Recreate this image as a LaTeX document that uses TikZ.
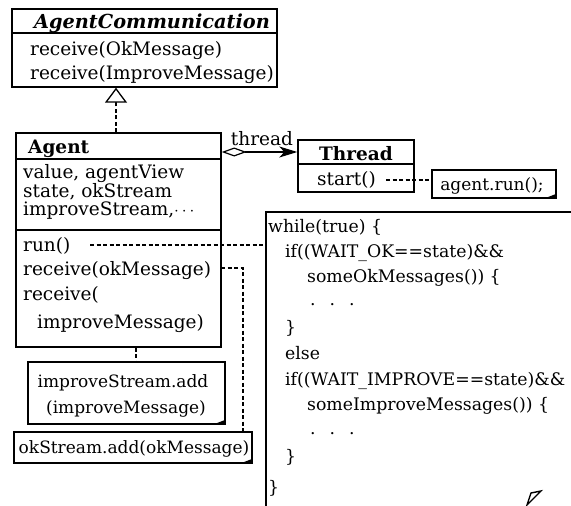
\documentclass[tikz,border=0pt]{standalone}
\usepackage{fontspec}
\setmainfont{DejaVu Serif}
\usetikzlibrary{arrows.meta}
\begin{document}
\begin{tikzpicture}[x=1pt,y=-1pt]
\tikzset{
  boxline/.style={line width=1.4pt},
  umlbox/.style={draw, line width=1.4pt, inner sep=0pt, rectangle},
  txt/.style={inner sep=0pt, anchor=base west, text height=0.7em, text depth=0.2em, font=\fontsize{18.5}{22}\selectfont},
  notetxt/.style={inner sep=0pt, anchor=base, text height=0.7em, text depth=0.2em, font=\fontsize{17}{21}\selectfont},
  code/.style={inner sep=0pt, anchor=base west, text height=0.7em, text depth=0.2em, font=\fontsize{17.3}{22}\selectfont},
  dep/.style={line width=1.1pt, dash pattern=on 4pt off 2.5pt},
}
\useasboundingbox (0,0) rectangle (571,506);
\newcommand{\notefold}[1]{\fill (#1.south east) -- ++(-13,0) -- ++(13,-5) -- cycle;}

% AgentCommunication
\node[umlbox, minimum width=265pt, minimum height=78pt] (ac) at (144.5,48) {};
\coordinate (acs) at (0,33);
\draw[boxline] (ac.west |- acs) -- (ac.east |- acs);
\node[txt, anchor=base, font=\fontsize{19.3}{22}\selectfont\bfseries\itshape] (act) at (152,28) {AgentCommunication};
\node[txt] (ac1) at (30,56) {receive(OkMessage)};
\node[txt] (ac2) at (30,79) {receive(ImproveMessage)};

% Agent
\node[umlbox, minimum width=205pt, minimum height=214pt] (ag) at (118.5,240) {};
\coordinate (ags1) at (0,159);
\coordinate (ags2) at (0,230);
\draw[boxline] (ag.west |- ags1) -- (ag.east |- ags1);
\draw[boxline] (ag.west |- ags2) -- (ag.east |- ags2);
\node[txt, font=\fontsize{18.5}{22}\selectfont\bfseries] (agt) at (28,153) {Agent};
\node[txt] (ag1) at (23,178) {value, agentView};
\node[txt] (ag2) at (23,197) {state, okStream};
\node[txt] (ag3) at (23,215) {improveStream,$\cdots$};
\node[txt] (m1) at (23,251) {run()};
\node[txt] (m2) at (23,275) {receive(okMessage)};
\node[txt] (m3) at (23,300) {receive(};
\node[txt] (m4) at (37,328) {improveMessage)};

% generalization
\coordinate (gx) at (116,0);
\draw[dep, -{Triangle[open, length=15pt, width=22pt, line width=1.3pt, fill=white]}] (ag.north -| gx) -- (ac.south -| gx);

% Thread
\node[umlbox, minimum width=116pt, minimum height=52pt] (th) at (356,166) {};
\coordinate (ths) at (0,164);
\draw[boxline] (th.west |- ths) -- (th.east |- ths);
\node[txt, anchor=base, font=\fontsize{18.5}{22}\selectfont\bfseries] (tht) at (356,160) {Thread};
\node[txt] (st) at (317,185) {start()};

% association
\coordinate (ay) at (0,152);
\draw[line width=1.3pt, {Diamond[open, length=25pt, width=9pt, line width=1.2pt, fill=white]}-{Stealth[length=18pt, width=11pt, inset=5pt]}] (ag.east |- ay) -- (th.west |- ay);
\node[txt, anchor=base] (thl) at (262,145) {thread};

% note agent.run()
\node[umlbox, minimum width=124pt, minimum height=28pt] (rn) at (494,184) {};
\notefold{rn}
\node[notetxt] (rnt) at (492,190) {agent.run();};
\coordinate (sts) at (386,180);
\draw[dep] (sts) -- (rn.west |- sts);

% big note
\coordinate (bn) at (266,212);
\draw[boxline] (266,506) -- (bn) -- (571,212);
\draw[line width=1.4pt] (527,505) -- (531,493) -- (541,491) -- cycle;
\node[code] (c1) at (268,232) {while(true) \{};
\node[code] (c2) at (285,257) {if((WAIT\_OK==state)\&\&};
\node[code] (c3) at (307,282) {someOkMessages()) \{};
\node[code] (c4) at (310,305) {.\hspace{14pt}.\hspace{14pt}.};
\node[code] (c5) at (285,333) {\}};
\node[code] (c6) at (285,359) {else};
\node[code] (c7) at (285,385) {if((WAIT\_IMPROVE==state)\&\&};
\node[code] (c8) at (307,410) {someImproveMessages()) \{};
\node[code] (c9) at (310,434) {.\hspace{14pt}.\hspace{14pt}.};
\node[code] (c10) at (285,462) {\}};
\node[code] (c11) at (268,493) {\}};

% run() dependency
\coordinate (rs) at (90,245);
\draw[dep] (rs) -- (rs -| bn);

% improveStream note
\node[umlbox, minimum width=197pt, minimum height=62pt] (imn) at (126.5,393) {};
\notefold{imn}
\node[notetxt] (imt1) at (123,387) {improveStream.add};
\node[notetxt] (imt2) at (126,413) {(improveMessage)};
\coordinate (imx) at (136,0);
\draw[dep] (ag.south -| imx) -- (imn.north -| imx);

% okStream note
\node[umlbox, minimum width=238pt, minimum height=31pt] (okn) at (133,447.5) {};
\notefold{okn}
\node[notetxt] (okt) at (134,453) {okStream.add(okMessage)};
\coordinate (rok) at (221,268);
\coordinate (okx) at (243,268);
\draw[dep] (rok) -- (okx) -- (okx |- okn.north);
\end{tikzpicture}
\end{document}
